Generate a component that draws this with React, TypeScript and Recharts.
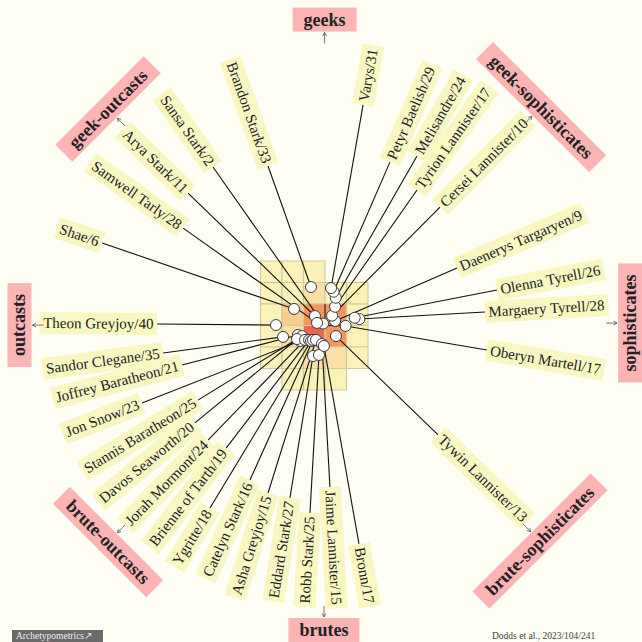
import React from 'react';
import {
  ScatterChart,
  Scatter,
  XAxis,
  YAxis,
  ReferenceArea,
  ReferenceLine,
} from 'recharts';

// characters, number of mentions, and position in archetype space (grid units)
const characters = [
  'Theon Greyjoy', 'Sandor Clegane', 'Joffrey Baratheon', 'Jon Snow', 'Stannis Baratheon',
  'Davos Seaworth', 'Jorah Mormont', 'Brienne of Tarth', 'Ygritte', 'Catelyn Stark',
  'Asha Greyjoy', 'Eddard Stark', 'Robb Stark', 'Jaime Lannister', 'Bronn',
  'Tywin Lannister', 'Oberyn Martell', 'Margaery Tyrell', 'Olenna Tyrell', 'Daenerys Targaryen',
  'Cersei Lannister', 'Tyrion Lannister', 'Melisandre', 'Petyr Baelish', 'Varys',
  'Brandon Stark', 'Sansa Stark', 'Arya Stark', 'Samwell Tarly', 'Shae',
];
const mentions = [
  40, 35, 21, 23, 25, 20, 24, 19, 18, 16,
  15, 27, 25, 15, 17, 13, 17, 28, 26, 9,
  10, 17, 24, 29, 31, 33, 2, 11, 28, 6,
];
const scoreX = [
  -2.28, -1.95, -1.26, -1.16, -1.07, -1.3, -0.93, -0.74, -0.65, -0.56,
  -0.42, -0.56, -0.28, -0.14, -0.05, 0.51, 0.96, 1.6, 1.38, 0.47,
  0.33, 0.47, 0.5, 0.4, 0.28, -0.65, -0.09, -0.47, -0.37, -1.44,
];
const scoreY = [
  0.02, -0.53, -0.44, -0.72, -0.49, -0.63, -0.67, -0.67, -0.72, -0.67,
  -0.67, -1.42, -1.37, -0.86, -0.95, -0.49, -0.02, 0.3, 0.36, 0.21,
  0.46, 0.87, 1.29, 1.57, 1.74, 1.79, 0.09, 0.44, 0.12, 0.77,
];

// where each leader line ends (label anchor), same grid units
const tipX = [
  -7.81, -7.53, -6.65, -8.51, -5.91, -6.05, -5.44, -4.6, -5.35, -3.49,
  -2.65, -1.63, -0.7, 0.23, 1.58, 5.26, 7.53, 7.44, 8.0, 6.14,
  5.35, 4.28, 4.28, 3.02, 1.77, -2.65, -5.21, -6.37, -6.6, -10.37,
];
const tipY = [
  0.07, -1.28, -1.84, -3.6, -3.47, -4.53, -5.33, -5.7, -8.49, -7.19,
  -7.79, -8.02, -8.72, -7.51, -10.16, -5.09, -1.14, 0.63, 1.65, 2.67,
  5.51, 6.3, 7.88, 7.6, 10.26, 7.42, 7.37, 6.16, 4.53, 3.84,
];

// density cells: lower-left corner and shade level
const cellX = [
  -3, -2, -1,
  -3, -2, -1, 0, 1,
  -3, -2, -1, 0, 1,
  -3, -2, -1, 0, 1,
  -3, -2, -1, 0, 1,
  -2, -1, 0,
];
const cellY = [
  2, 2, 2,
  1, 1, 1, 1, 1,
  0, 0, 0, 0, 0,
  -1, -1, -1, -1, -1,
  -2, -2, -2, -2, -2,
  -3, -3, -3,
];
const cellLevel = [
  1, 1, 1,
  1, 1, 2, 1, 1,
  1, 3, 4, 4, 1,
  1, 2, 5, 4, 1,
  1, 1, 2, 2, 1,
  1, 1, 1,
];
const levelColors = ['#fefef4', '#fbf2b9', '#fae0a6', '#f9cc90', '#f5955f', '#ec6454'];

// archetype poles
const poles = [
  'geeks', 'brutes', 'outcasts', 'sophisticates',
  'geek-outcasts', 'geek-sophisticates', 'brute-outcasts', 'brute-sophisticates',
];
const poleX = [-0.02, -0.05, -14.21, 14.19, -10.09, 10.05, -10.09, 10.0];
const poleY = [14.23, -14.16, 0.02, 0.12, 10.07, 10.16, -10.07, -10.02];
const poleAngle = [0, 0, -90, -90, -45, 45, 45, -45];

const SIZE = 642;
const UNIT = 21.5;
const ORIGIN_X = 325;
const ORIGIN_Y = 325.5;
const X_DOMAIN = [-ORIGIN_X / UNIT, (SIZE - ORIGIN_X) / UNIT];
const Y_DOMAIN = [-(SIZE - ORIGIN_Y) / UNIT, ORIGIN_Y / UNIT];

const LABEL_FONT = '15px "Liberation Serif"';
const POLE_FONT = 'bold 18px "Liberation Serif"';

let ctx: CanvasRenderingContext2D | null = null;
function textWidth(s: string, font: string) {
  if (!ctx && typeof document !== 'undefined') {
    ctx = document.createElement('canvas').getContext('2d');
  }
  if (!ctx) return s.length * 7;
  ctx.font = font;
  return ctx.measureText(s).width;
}

const dots = characters.map((name, i) => ({ x: scoreX[i], y: scoreY[i], name }));
const labels = characters.map((name, i) => ({
  x: tipX[i],
  y: tipY[i],
  px: scoreX[i],
  py: scoreY[i],
  text: `${name}/${mentions[i]}`,
}));
const poleData = poles.map((name, i) => ({ x: poleX[i], y: poleY[i], name, angle: poleAngle[i] }));

function Dot(props: any) {
  const { cx, cy } = props;
  return <circle cx={cx} cy={cy} r={5.5} fill="#ffffff" stroke="#3a3a3a" strokeWidth={1} />;
}

function NameTag(props: any) {
  const { cx, cy } = props;
  const p = props.payload ?? props;
  const dx = p.x - p.px;
  const dy = -(p.y - p.py);
  let ang = (Math.atan2(dy, dx) * 180) / Math.PI;
  const flip = dx < 0;
  if (flip) ang += 180;
  if (ang > 180) ang -= 360;
  const pad = 3.5;
  const h = 22;
  const w = textWidth(p.text, LABEL_FONT) + pad * 2;
  return (
    <g transform={`translate(${cx},${cy}) rotate(${ang})`}>
      <rect x={flip ? -w : 0} y={-h / 2} width={w} height={h} fill="#f9f8c3" />
      <text
        x={flip ? -pad : pad}
        y={0}
        dy="0.33em"
        textAnchor={flip ? 'end' : 'start'}
        fontFamily='"Liberation Serif", serif'
        fontSize={15}
        fill="#222"
      >
        {p.text}
      </text>
    </g>
  );
}

function PoleTag(props: any) {
  const { cx, cy } = props;
  const p = props.payload ?? props;
  const h = 24;
  const w = textWidth(p.name, POLE_FONT) + 22;
  // arrow pointing at the box from the centre side
  const len = Math.hypot(p.x, p.y);
  const ux = -p.x / len;
  const uy = p.y / len;
  const sx = cx + ux * (h / 2 + 12);
  const sy = cy + uy * (h / 2 + 12);
  const ex = cx + ux * (h / 2 + 1);
  const ey = cy + uy * (h / 2 + 1);
  const back = Math.atan2(sy - ey, sx - ex);
  const head = (a: number) => `${ex + 4 * Math.cos(back + a)},${ey + 4 * Math.sin(back + a)}`;
  return (
    <g>
      <line x1={sx} y1={sy} x2={ex} y2={ey} stroke="#555" strokeWidth={0.8} />
      <polyline
        points={`${head(0.5)} ${ex},${ey} ${head(-0.5)}`}
        fill="none"
        stroke="#555"
        strokeWidth={0.8}
      />
      <g transform={`translate(${cx},${cy}) rotate(${p.angle})`}>
        <rect x={-w / 2} y={-h / 2} width={w} height={h} fill="#fcb4b4" />
        <text
          x={0}
          y={0}
          dy="0.33em"
          textAnchor="middle"
          fontFamily='"Liberation Serif", serif'
          fontWeight="bold"
          fontSize={18}
          fill="#222"
        >
          {p.name}
        </text>
      </g>
    </g>
  );
}

export default function App() {
  return (
    <div
      style={{
        position: 'absolute',
        left: 0,
        top: 0,
        width: SIZE,
        height: SIZE,
        background: '#fefef4',
        overflow: 'hidden',
      }}
    >
      <ScatterChart width={SIZE} height={SIZE} margin={{ top: 0, right: 0, bottom: 0, left: 0 }}>
        <XAxis type="number" dataKey="x" domain={X_DOMAIN} allowDataOverflow hide />
        <YAxis type="number" dataKey="y" domain={Y_DOMAIN} allowDataOverflow hide />

        {cellX.map((x, i) => (
          <ReferenceArea
            key={`cell-${i}`}
            x1={x}
            x2={x + 1}
            y1={cellY[i]}
            y2={cellY[i] + 1}
            fill={levelColors[cellLevel[i]]}
            fillOpacity={1}
            stroke="#d4cc98"
            strokeWidth={1.2}
          />
        ))}
        <ReferenceLine segment={[{ x: 0, y: 1 }, { x: 0, y: 0 }]} stroke="#222" strokeWidth={1.2} />
        <ReferenceLine segment={[{ x: 0, y: 0 }, { x: 1, y: 0 }]} stroke="#222" strokeWidth={1.2} />

        {characters.map((name, i) => (
          <ReferenceLine
            key={`lead-${name}`}
            segment={[
              { x: scoreX[i], y: scoreY[i] },
              { x: tipX[i], y: tipY[i] },
            ]}
            stroke="#111"
            strokeWidth={1.1}
          />
        ))}

        <Scatter data={labels} shape={NameTag} isAnimationActive={false} />
        <Scatter data={dots} shape={Dot} isAnimationActive={false} />
        <Scatter data={poleData} shape={PoleTag} isAnimationActive={false} />
      </ScatterChart>

      <div
        style={{
          position: 'absolute',
          left: 12,
          top: 630,
          width: 91,
          height: 12,
          background: '#6b6b6b',
          color: '#eeeeee',
          fontFamily: '"Liberation Serif", serif',
          fontSize: 9.5,
          lineHeight: '12px',
          paddingLeft: 4,
          boxSizing: 'border-box',
          whiteSpace: 'nowrap',
        }}
      >
        Archetypometrics↗
      </div>
      <div
        style={{
          position: 'absolute',
          left: 492,
          top: 630,
          color: '#444',
          fontFamily: '"Liberation Serif", serif',
          fontSize: 9.5,
          lineHeight: '12px',
          whiteSpace: 'nowrap',
        }}
      >
        Dodds et al., 2023/104/241
      </div>
    </div>
  );
}
